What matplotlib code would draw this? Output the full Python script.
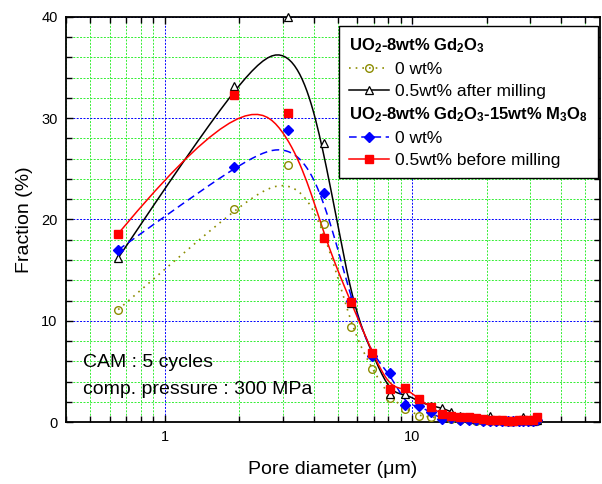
import numpy as np
import matplotlib
matplotlib.use('Agg')
import matplotlib.pyplot as plt
from matplotlib.lines import Line2D
from matplotlib.ticker import FixedLocator, MultipleLocator, NullFormatter, FixedFormatter

plt.rcParams['font.family'] = ['Liberation Sans', 'DejaVu Sans']
plt.rcParams['mathtext.default'] = 'regular'

# pore size classes (um)
diam = [0.65, 1.9, 3.15, 4.4, 5.65, 6.9, 8.15, 9.4, 10.65, 11.9, 13.15, 14.4, 15.65,
        16.9, 18.15, 19.4, 20.65, 21.9, 23.15, 24.4, 25.65, 26.9, 28.15, 29.4, 30.65, 31.9]

# UO2-8wt% Gd2O3
gd_0 = [11.1, 21.0, 25.4, 19.6, 9.35, 5.2, 2.4, 1.3, 0.6, 0.5, 0.35, 0.3, 0.2,
        0.15, 0.1, 0.1, 0.1, 0.05, 0.1, 0.05, 0.05, 0.05, 0.1, 0.05, 0.05, 0.1]
gd_after = [16.2, 33.2, 40.0, 27.6, 11.8, 6.8, 2.8, 2.8, 2.0, 1.6, 1.4, 1.0, 0.6,
            0.4, 0.3, 0.3, 0.6, 0.2, 0.15, 0.1, 0.1, 0.2, 0.45, 0.15, 0.1, 0.2]
# UO2-8wt% Gd2O3-15wt% M3O8
m3_0 = [17.0, 25.2, 28.8, 22.65, 12.0, 6.5, 4.8, 1.7, 1.6, 0.95, 0.3, 0.4, 0.2,
        0.2, 0.15, 0.1, 0.1, 0.1, 0.1, 0.1, 0.05, 0.1, 0.1, 0.1, 0.1, 0.15]
m3_before = [18.6, 32.3, 30.5, 18.2, 11.9, 6.85, 3.3, 3.4, 2.25, 1.5, 0.75, 0.6, 0.5,
             0.5, 0.35, 0.25, 0.2, 0.15, 0.15, 0.1, 0.1, 0.15, 0.2, 0.15, 0.2, 0.5]

labels = ['0 wt%', '0.5wt% after milling', '0 wt%', '0.5wt% before milling']
head1 = 'UO$_2$-8wt% Gd$_2$O$_3$'
head2 = 'UO$_2$-8wt% Gd$_2$O$_3$-15wt% M$_3$O$_8$'


def bspline(x, y, n=400):
    # clamped cubic B-spline, data points used as control points (log x)
    u = np.log10(np.asarray(x, float))
    v = np.asarray(y, float)
    m, k = len(u), 3
    knots = np.concatenate([np.zeros(k), np.arange(m - k + 1), np.full(k, m - k)]).astype(float)
    t = np.linspace(0, m - k - 1e-9, n)
    N = np.zeros((n, len(knots) - 1))
    for i in range(len(knots) - 1):
        N[:, i] = (knots[i] <= t) & (t < knots[i + 1])
    for d in range(1, k + 1):
        Nn = np.zeros((n, len(knots) - 1 - d))
        for i in range(len(knots) - 1 - d):
            a = knots[i + d] - knots[i]
            b = knots[i + d + 1] - knots[i + 1]
            term = np.zeros(n)
            if a > 0:
                term += (t - knots[i]) / a * N[:, i]
            if b > 0:
                term += (knots[i + d + 1] - t) / b * N[:, i + 1]
            Nn[:, i] = term
        N = Nn
    return 10 ** (N @ u), N @ v


fig = plt.figure(figsize=(6.02, 4.84), dpi=100)
ax = fig.add_axes([66 / 602, 62 / 484, 534 / 602, 405 / 484])

series = [
    (gd_0, dict(color='#8c8c00', ls=(0, (1, 3)), lw=1.2), dict(marker='o', mfc='none', mec='#8c8c00', ms=5.5, mew=1)),
    (gd_after, dict(color='black', ls='-', lw=1.1), dict(marker='^', mfc='white', mec='black', ms=6, mew=0.9)),
    (m3_0, dict(color='blue', ls=(0, (5, 3)), lw=1.1), dict(marker='D', mfc='blue', mec='blue', ms=5)),
    (m3_before, dict(color='red', ls='-', lw=1.1), dict(marker='s', mfc='red', mec='red', ms=5.5)),
]

for vals, lst, mst in series:
    cx, cy = bspline(diam, vals)
    ax.plot(cx, cy, zorder=3, **lst)
    ax.plot(diam, vals, ls='none', zorder=4, clip_on=False, **mst)

ax.set_xscale('log')
ax.set_xlim(0.4, 57.4)
ax.set_ylim(0, 40)

ax.xaxis.set_major_locator(FixedLocator([1, 10]))
ax.xaxis.set_major_formatter(FixedFormatter(['1', '10']))
ax.xaxis.set_minor_locator(FixedLocator([0.4, 0.5, 0.6, 0.7, 0.8, 0.9, 2, 3, 4, 5, 6, 7, 8, 9, 20, 30, 40, 50]))
ax.xaxis.set_minor_formatter(NullFormatter())
ax.yaxis.set_major_locator(MultipleLocator(10))
ax.yaxis.set_minor_locator(MultipleLocator(2))

ax.grid(which='minor', color='#33ee33', ls=(0, (2, 1.5)), lw=0.7, zorder=0)
ax.grid(which='major', color='blue', ls=(0, (2, 1.5)), lw=0.7, zorder=0)
ax.set_axisbelow(True)

ax.tick_params(which='both', direction='in', top=True, right=True, width=1, labelsize=10.5)
ax.tick_params(which='major', length=5, pad=6)
ax.tick_params(which='minor', length=4)
for s in ax.spines.values():
    s.set_linewidth(1.3)

ax.set_xlabel('Pore diameter (\u03bcm)', fontsize=14, labelpad=12)
ax.set_ylabel('Fraction (%)', fontsize=14, labelpad=6)

ax.text(0.032, 0.146, 'CAM : 5 cycles', transform=ax.transAxes, fontsize=14, va='center')
ax.text(0.032, 0.081, 'comp. pressure : 300 MPa', transform=ax.transAxes, fontsize=14, va='center')

# legend with two group headers (headers get no handle)
blank = Line2D([], [], color='none')
handles = [blank]
for vals, lst, mst in series[:2]:
    handles.append(Line2D([], [], **lst, **mst))
handles.append(blank)
for vals, lst, mst in series[2:]:
    handles.append(Line2D([], [], **lst, **mst))
leg_labels = [head1, labels[0], labels[1], head2, labels[2], labels[3]]

leg = ax.legend(handles, leg_labels, loc='upper right', bbox_to_anchor=(0.997, 0.977),
                fontsize=12.5, handlelength=2.3, handletextpad=0.35, labelspacing=0.38,
                borderpad=0.6, borderaxespad=0, fancybox=False, framealpha=1,
                edgecolor='black', numpoints=1)
leg.get_frame().set_linewidth(1.0)
rows = leg._legend_handle_box.get_children()[0].get_children()
for i in (0, 3):
    leg.get_texts()[i].set_fontweight('bold')
    leg.get_texts()[i].set_fontsize(12)
    rows[i].get_children()[0].width = 0
    rows[i].sep = 0

fig.savefig('out.png', dpi=100)
